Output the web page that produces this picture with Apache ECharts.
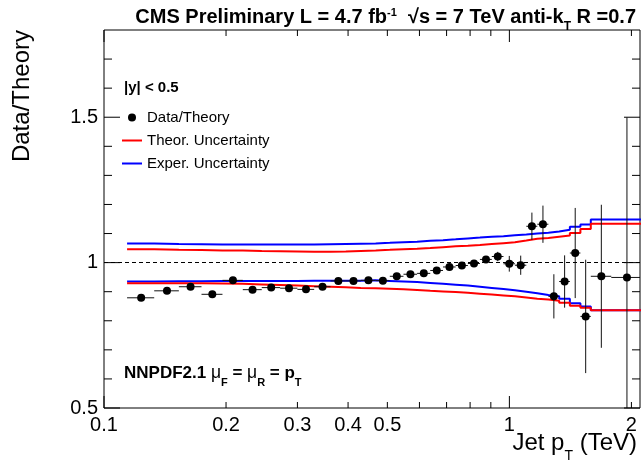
<!DOCTYPE html>
<html><head><meta charset="utf-8">
<script src="https://cdn.jsdelivr.net/npm/echarts@6/dist/echarts.min.js"></script>
<style>html,body{margin:0;padding:0;background:#fff}#c{width:642px;height:462px}</style>
</head><body><div id="c"></div>
<script>
// Jet pT bin edges (TeV)
const binEdges = [0.114,0.133,0.153,0.174,0.196,0.220,0.245,0.272,0.300,0.330,0.362,0.395,0.430,0.468,0.507,0.548,0.592,0.638,0.686,0.737,0.790,0.846,0.905,0.967,1.032,1.101,1.172,1.248,1.327,1.410,1.497,1.588,1.784,2.116];
// Data/Theory ratio per bin
const ratio = [0.879,0.903,0.917,0.891,0.939,0.907,0.914,0.912,0.908,0.917,0.937,0.937,0.939,0.938,0.953,0.960,0.963,0.973,0.985,0.990,0.997,1.011,1.021,0.996,0.991,1.125,1.132,0.884,0.935,1.033,0.815,0.953,0.949];
const ratioErr = [0.005,0.005,0.005,0.009,0.005,0.006,0.005,0.005,0.005,0.005,0.005,0.005,0.005,0.005,0.005,0.006,0.006,0.006,0.007,0.007,0.008,0.009,0.016,0.027,0.033,0.047,0.064,0.076,0.090,0.155,0.195,0.246,0.550];
// Theory uncertainty band
const theoryUp = [1.046,1.044,1.043,1.042,1.042,1.040,1.039,1.038,1.037,1.037,1.038,1.040,1.042,1.044,1.046,1.048,1.050,1.053,1.056,1.058,1.061,1.064,1.067,1.070,1.076,1.082,1.085,1.089,1.093,1.102,1.116,1.134,1.134];
const theoryDown = [0.929,0.929,0.929,0.928,0.927,0.925,0.923,0.921,0.919,0.917,0.915,0.913,0.912,0.910,0.908,0.906,0.903,0.901,0.899,0.896,0.893,0.890,0.887,0.884,0.880,0.876,0.873,0.869,0.862,0.852,0.845,0.836,0.836];
// Experimental uncertainty band
const experUp = [1.066,1.064,1.063,1.062,1.062,1.062,1.062,1.062,1.062,1.063,1.064,1.065,1.066,1.068,1.070,1.072,1.075,1.077,1.080,1.083,1.086,1.089,1.091,1.094,1.097,1.100,1.103,1.107,1.113,1.123,1.131,1.148,1.148];
const experDown = [0.935,0.936,0.936,0.937,0.937,0.937,0.937,0.937,0.938,0.938,0.938,0.938,0.939,0.937,0.935,0.933,0.930,0.927,0.924,0.921,0.917,0.913,0.909,0.905,0.900,0.895,0.889,0.884,0.876,0.860,0.849,0.836,0.836];
// Axis ticks and labels
const xMajorTicks = [0.1, 1];
const xMinorTicks = [0.2,0.3,0.4,0.5,0.6,0.7,0.8,0.9,2];
const xTickLabels = [0.1,0.2,0.3,0.4,0.5,1,2];
const yMajorTicks = [0.5,1.0,1.5];
const yMinorTicks = [0.6,0.7,0.8,0.9,1.1,1.2,1.3,1.4,1.6,1.7];

const X_MIN = 0.1, X_MAX = 2.1, Y_MIN = 0.5, Y_MAX = 1.8;
const FONT = 'Liberation Sans, Arial, Helvetica, sans-serif';

function stepLine(vals) {
  const out = [];
  vals.forEach((v, i) => { out.push([binEdges[i], v]); out.push([binEdges[i + 1], v]); });
  return out;
}
const points = ratio.map((v, i) => [(binEdges[i] + binEdges[i + 1]) / 2, v]);
const errData = ratio.map((v, i) => [(binEdges[i] + binEdges[i + 1]) / 2, v, ratioErr[i], binEdges[i], binEdges[i + 1]]);

const tickData = [];
xMajorTicks.forEach(v => tickData.push([v, Y_MIN, 0, 1]));
xMinorTicks.forEach(v => tickData.push([v, Y_MIN, 0, 0]));
yMajorTicks.forEach(v => tickData.push([X_MIN, v, 1, 1]));
yMinorTicks.forEach(v => tickData.push([X_MIN, v, 1, 0]));

const clampY = y => Math.max(Y_MIN, Math.min(Y_MAX, y));
const ln = (x1, y1, x2, y2, c, w) => ({ type: 'line', shape: { x1, y1, x2, y2 }, style: { stroke: c || '#000', lineWidth: w || 1 } });

const chart = echarts.init(document.getElementById('c'), null, { renderer: 'canvas' });
chart.setOption({
  animation: false,
  backgroundColor: '#fff',
  grid: { left: 104, right: 2, top: 30, bottom: 54, show: true, borderColor: '#000', borderWidth: 1, backgroundColor: 'transparent' },
  xAxis: { type: 'log', logBase: 10, min: X_MIN, max: X_MAX, axisLine: { show: false }, axisTick: { show: false }, axisLabel: { show: false }, splitLine: { show: false } },
  yAxis: {
    type: 'value', min: Y_MIN, max: Y_MAX, interval: 0.5,
    axisLine: { show: false }, axisTick: { show: false }, splitLine: { show: false },
    axisLabel: { fontSize: 20, color: '#000', fontFamily: FONT, margin: 6, showMaxLabel: false,
      formatter: v => String(Math.round(v * 10) / 10) }
  },
  legend: {
    orient: 'vertical', left: 116, top: 105, padding: 5, itemWidth: 20, itemHeight: 8, itemGap: 8, selectedMode: false,
    textStyle: { fontSize: 15, color: '#000', fontFamily: FONT, lineHeight: 15 },
    data: [
      { name: 'Data/Theory', icon: 'circle', itemStyle: { color: '#000', opacity: 1 } },
      { name: 'Theor. Uncertainty', icon: 'line', itemStyle: { color: '#ff0000', borderColor: '#ff0000', borderWidth: 2 } },
      { name: 'Exper. Uncertainty', icon: 'line', itemStyle: { color: '#0000ff', borderColor: '#0000ff', borderWidth: 2 } }
    ]
  },
  graphic: [
    { type: 'text', x: 636, y: 17, style: { align: 'right', verticalAlign: 'middle', fill: '#000',
      text: '{b|CMS Preliminary L = 4.7 fb}{sp|-1}{b|  √s = 7 TeV anti-k}{sb|T}{b| R =0.7}',
      rich: {
        b: { fontSize: 20, fontWeight: 'bold', fontFamily: FONT, lineHeight: 20 },
        sp: { fontSize: 11, fontWeight: 'bold', fontFamily: FONT, lineHeight: 20, verticalAlign: 'top' },
        sb: { fontSize: 12, fontWeight: 'bold', fontFamily: FONT, lineHeight: 20, verticalAlign: 'bottom', padding: [0, 0, -6, 0] }
      } } },
    { type: 'text', x: 22, y: 30, rotation: Math.PI / 2, style: { text: 'Data/Theory', align: 'right', verticalAlign: 'middle', fill: '#000', font: '24px ' + FONT } },
    { type: 'text', x: 637, y: 443, style: { align: 'right', verticalAlign: 'middle', fill: '#000',
      text: '{a|Jet p}{s|T}{a| (TeV)}',
      rich: {
        a: { fontSize: 24, fontFamily: FONT, lineHeight: 24 },
        s: { fontSize: 14, fontFamily: FONT, lineHeight: 24, verticalAlign: 'bottom', padding: [0, 0, -8, 0] }
      } } },
    { type: 'text', x: 124, y: 88, style: { text: '|y| < 0.5', verticalAlign: 'middle', fill: '#000', font: 'bold 15px ' + FONT } },
    { type: 'text', x: 124, y: 373, style: { verticalAlign: 'middle', fill: '#000',
      text: '{b|NNPDF2.1 }{m|μ}{s|F}{b| = }{m|μ}{s|R}{b| = p}{s|T}',
      rich: {
        b: { fontSize: 17, fontWeight: 'bold', fontFamily: FONT, lineHeight: 18 },
        m: { fontSize: 17.5, fontFamily: FONT, lineHeight: 18 },
        s: { fontSize: 11, fontWeight: 'bold', fontFamily: FONT, lineHeight: 18, verticalAlign: 'bottom', padding: [0, 0, -6, 0] }
      } } }
  ],
  series: [
    { name: 'Exper. Uncertainty', type: 'line', data: stepLine(experUp), symbol: 'none', lineStyle: { color: '#0000ff', width: 2 }, itemStyle: { color: '#0000ff' }, z: 2 },
    { name: 'Exper. Uncertainty', type: 'line', data: stepLine(experDown), symbol: 'none', lineStyle: { color: '#0000ff', width: 2 }, itemStyle: { color: '#0000ff' }, z: 2 },
    { name: 'Theor. Uncertainty', type: 'line', data: stepLine(theoryUp), symbol: 'none', lineStyle: { color: '#ff0000', width: 2 }, itemStyle: { color: '#ff0000' }, z: 3 },
    { name: 'Theor. Uncertainty', type: 'line', data: stepLine(theoryDown), symbol: 'none', lineStyle: { color: '#ff0000', width: 2 }, itemStyle: { color: '#ff0000' }, z: 3,
      markLine: { silent: true, symbol: ['none', 'none'], label: { show: false }, lineStyle: { color: '#000', width: 1, type: [4, 3] }, data: [{ yAxis: 1 }] } },
    { name: 'errors', type: 'custom', z: 4, data: errData, clip: false,
      renderItem: (params, api) => {
        const x = api.value(0), y = api.value(1), e = api.value(2), lo = api.value(3), hi = api.value(4);
        const top = api.coord([x, clampY(y + e)]), bot = api.coord([x, clampY(y - e)]);
        const l = api.coord([Math.max(lo, X_MIN), y]), r = api.coord([Math.min(hi, X_MAX), y]);
        return { type: 'group', children: [ln(top[0], top[1], bot[0], bot[1], '#111', 1), ln(l[0], l[1], r[0], r[1], '#111', 1)] };
      } },
    { name: 'Data/Theory', type: 'scatter', data: points, symbol: 'circle', symbolSize: 8, itemStyle: { color: '#000', opacity: 1 }, z: 5 },
    { name: 'ticks', type: 'custom', z: 6, data: tickData, clip: false,
      renderItem: (params, api) => {
        const kind = api.value(2), major = api.value(3);
        if (kind === 0) {
          const v = api.value(0), b = api.coord([v, Y_MIN]), t = api.coord([v, Y_MAX]);
          const len = major ? 12 : 6;
          return { type: 'group', children: [ln(b[0], b[1], b[0], b[1] - len), ln(t[0], t[1], t[0], t[1] + len)] };
        }
        const v = api.value(1), l = api.coord([X_MIN, v]), r = api.coord([X_MAX, v]);
        const len = major ? 16 : 8;
        return { type: 'group', children: [ln(l[0], l[1], l[0] + len, l[1]), ln(r[0], r[1], r[0] - len, r[1])] };
      } },
    { name: 'xlabels', type: 'custom', z: 6, data: xTickLabels.map(v => [v, Y_MIN]), clip: false,
      renderItem: (params, api) => {
        const v = api.value(0), p = api.coord([v, Y_MIN]);
        return { type: 'text', x: p[0], y: p[1] + 17, style: { text: v < 1 ? v.toFixed(1) : String(v), align: 'center', verticalAlign: 'middle', fill: '#000', font: '20px ' + FONT } };
      } }
  ]
});
</script></body></html>
